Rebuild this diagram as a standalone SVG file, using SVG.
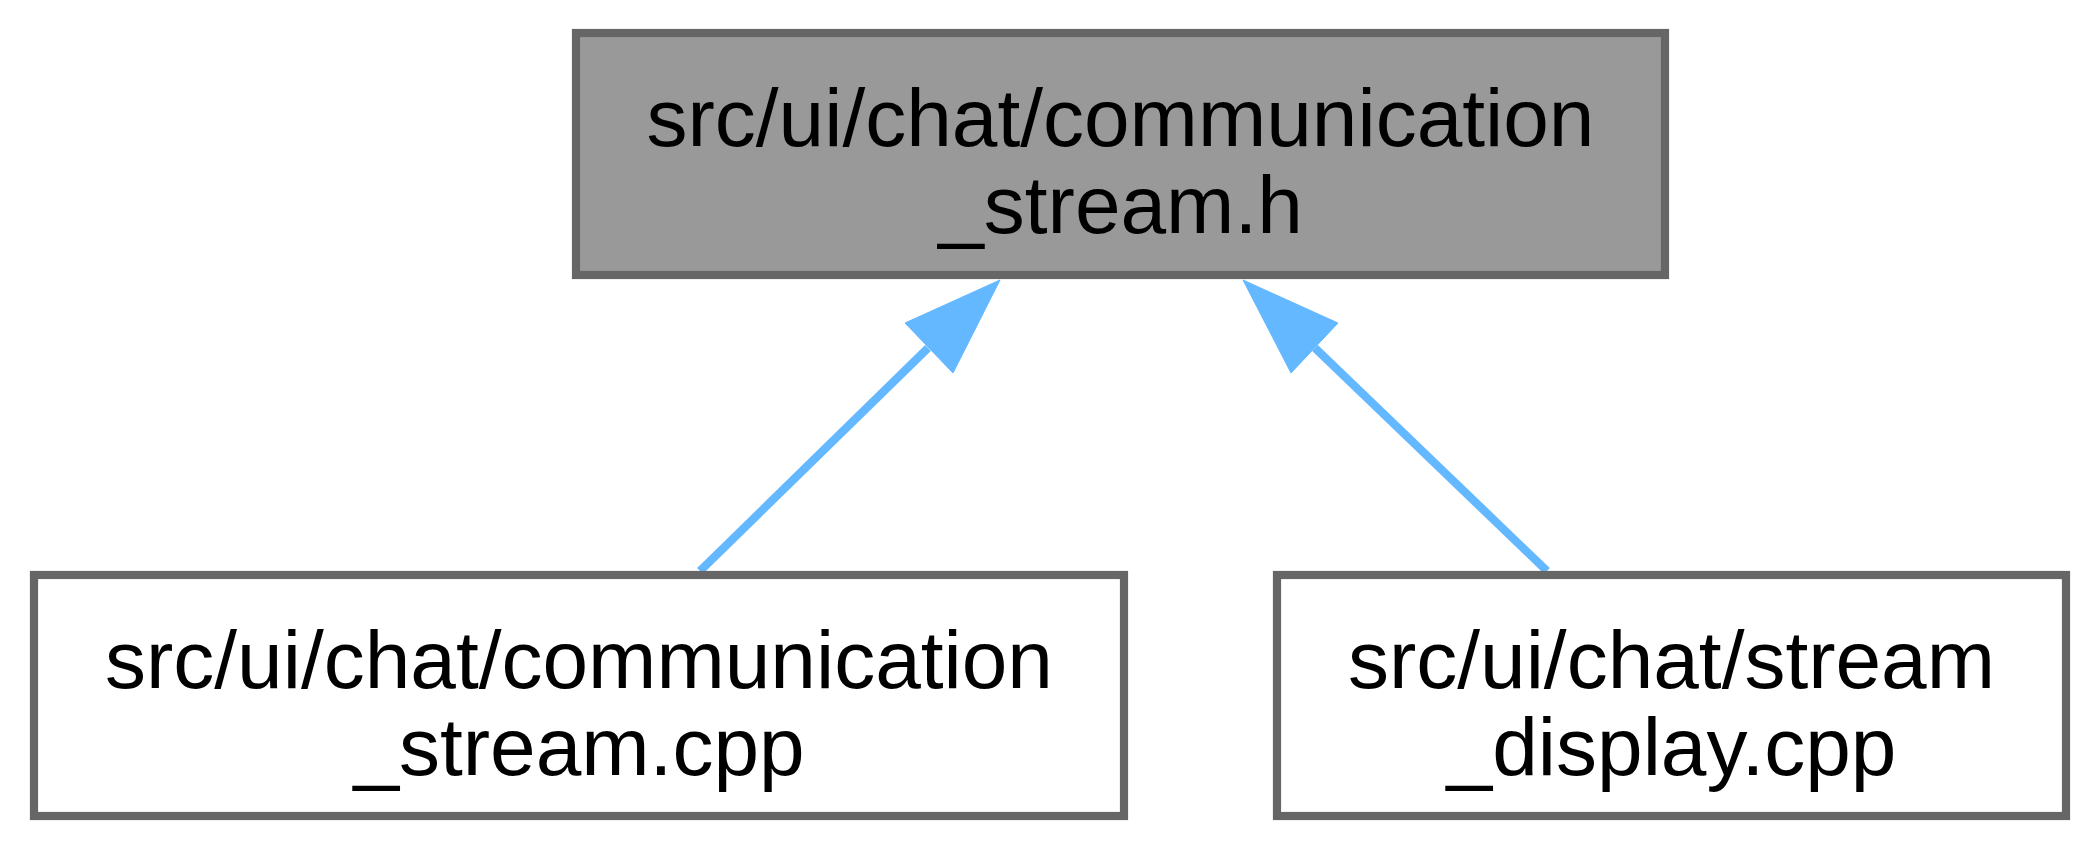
<svg xmlns="http://www.w3.org/2000/svg" width="2100" height="850" viewBox="0 0 2100 850">
  <style>
    .box { stroke: #666666; stroke-width: 8.2; }
    .main { fill: #999999; }
    .leaf { fill: #ffffff; }
    .lbl { font-family: "Liberation Sans", Arial, Helvetica, sans-serif; font-size: 82px; fill: #000000; text-anchor: middle; }
    .edge { stroke: #63b8ff; stroke-width: 8.2; fill: none; }
    .head { fill: #63b8ff; stroke: #63b8ff; stroke-width: 1; }
  </style>
  <rect width="2100" height="850" fill="#ffffff"/>
  <g id="connectors">
    <g id="edge_left">
      <path class="edge" d="M700,571 L928,348"/>
      <polygon class="head" points="1000,280 905,323 953,373"/>
    </g>
    <g id="edge_right">
      <path class="edge" d="M1547,571 L1315,348"/>
      <polygon class="head" points="1243,280 1338,323 1291,373"/>
    </g>
  </g>
  <g id="node_header">
    <rect class="box main" x="576" y="33" width="1089" height="242"/>
    <text class="lbl" x="1120.5" y="146">src/ui/chat/communication</text>
    <text class="lbl" x="1120.5" y="233">_stream.h</text>
  </g>
  <g id="node_comm_cpp">
    <rect class="box leaf" x="34" y="575" width="1090" height="241"/>
    <text class="lbl" x="579" y="688">src/ui/chat/communication</text>
    <text class="lbl" x="579" y="775">_stream.cpp</text>
  </g>
  <g id="node_display_cpp">
    <rect class="box leaf" x="1277" y="575" width="789" height="241"/>
    <text class="lbl" x="1671.5" y="688">src/ui/chat/stream</text>
    <text class="lbl" x="1671.5" y="775">_display.cpp</text>
  </g>
</svg>
